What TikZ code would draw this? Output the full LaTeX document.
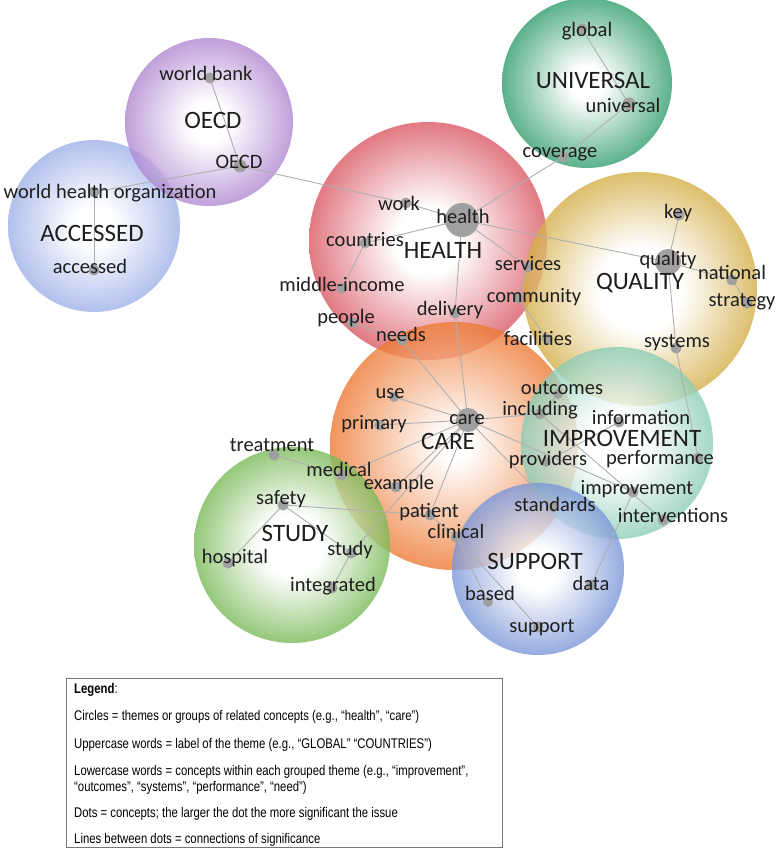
\documentclass[tikz,border=0pt]{standalone}
\usepackage{fontspec}
\setmainfont{Carlito}
\newfontfamily\legfont[FakeStretch=0.81]{Liberation Sans}
\pgfdeclarelayer{circ}
\pgfdeclarelayer{lns}
\pgfsetlayers{circ,lns,main}
\definecolor{cOECD}{RGB}{176,136,210}
\definecolor{cACC}{RGB}{158,176,232}
\definecolor{cUNI}{RGB}{50,158,110}
\definecolor{cHEA}{RGB}{218,88,100}
\definecolor{cQUA}{RGB}{212,174,72}
\definecolor{cCAR}{RGB}{238,122,52}
\definecolor{cIMP}{RGB}{140,205,182}
\definecolor{cSUP}{RGB}{122,150,215}
\definecolor{cSTU}{RGB}{122,186,88}
\definecolor{dotgray}{RGB}{160,160,160}
\definecolor{linegray}{RGB}{175,175,175}
\definecolor{txt}{RGB}{30,30,30}
\pgfdeclareradialshading{shOECD}{\pgfpoint{0bp}{0bp}}{color(0bp)=(white); color(6bp)=(white); color(25bp)=(cOECD); color(50bp)=(cOECD)}
\pgfdeclareradialshading{shACC}{\pgfpoint{0bp}{0bp}}{color(0bp)=(white); color(6bp)=(white); color(25bp)=(cACC); color(50bp)=(cACC)}
\pgfdeclareradialshading{shUNI}{\pgfpoint{0bp}{0bp}}{color(0bp)=(white); color(5bp)=(white); color(25bp)=(cUNI); color(50bp)=(cUNI)}
\pgfdeclareradialshading{shHEA}{\pgfpoint{0bp}{0bp}}{color(0bp)=(white); color(7bp)=(white); color(25bp)=(cHEA); color(50bp)=(cHEA)}
\pgfdeclareradialshading{shQUA}{\pgfpoint{0bp}{0bp}}{color(0bp)=(white); color(9bp)=(white); color(25bp)=(cQUA); color(50bp)=(cQUA)}
\pgfdeclareradialshading{shCAR}{\pgfpoint{0bp}{0bp}}{color(0bp)=(white); color(3bp)=(white); color(25bp)=(cCAR); color(50bp)=(cCAR)}
\pgfdeclareradialshading{shIMP}{\pgfpoint{0bp}{0bp}}{color(0bp)=(white); color(8bp)=(white); color(25bp)=(cIMP); color(50bp)=(cIMP)}
\pgfdeclareradialshading{shSUP}{\pgfpoint{0bp}{0bp}}{color(0bp)=(white); color(6bp)=(white); color(25bp)=(cSUP); color(50bp)=(cSUP)}
\pgfdeclareradialshading{shSTU}{\pgfpoint{0bp}{0bp}}{color(0bp)=(white); color(8bp)=(white); color(25bp)=(cSTU); color(50bp)=(cSTU)}
\tikzset{
  theme/.style={opacity=0.8},
  dot/.style={circle, fill=dotgray, draw=none, inner sep=0pt, minimum size=#1},
  dot/.default=11pt,
  conn/.style={draw=linegray, line width=0.9pt},
  lbl/.style={inner sep=0pt, text=txt, font=\fontsize{20.5}{24}\selectfont, text height=0.7em, text depth=0pt},
  thm/.style={inner sep=0pt, text=txt, font=\fontsize{25}{30}\selectfont, text height=0.66em, text depth=0pt},
  leg/.style={inner sep=0pt, anchor=west, text=black, font=\legfont\fontsize{14}{16}\selectfont, text height=0.72em, text depth=0pt}
}
\begin{document}
\begin{tikzpicture}[x=1pt, y=-1pt]
\useasboundingbox (0,0) rectangle (778,850);
% theme circles
\begin{pgfonlayer}{circ}
\shade[shading=shACC, theme] (94,226) circle[radius=86pt];
\shade[shading=shOECD, theme] (209,122) circle[radius=84pt];
\shade[shading=shUNI, theme] (587,83) circle[radius=85pt];
\shade[shading=shHEA, theme] (428,241) circle[radius=119pt];
\shade[shading=shQUA, theme] (640,289) circle[radius=117pt];
\shade[shading=shCAR, theme] (454,446) circle[radius=124pt];
\shade[shading=shSTU, theme] (292,545) circle[radius=98pt];
\shade[shading=shIMP, theme] (617,443) circle[radius=96pt];
\shade[shading=shSUP, theme] (538,569) circle[radius=86pt];
\end{pgfonlayer}
% dots
\node[dot] (wbank) at (210,78) {};
\node[dot=13pt] (oecd) at (240,166) {};
\node[dot] (who) at (94,192) {};
\node[dot] (accessed) at (94,270) {};
\node[dot] (global) at (582,29) {};
\node[dot=13pt] (universal) at (629,104) {};
\node[dot] (coverage) at (563,157) {};
\node[dot] (work) at (406,203) {};
\node[dot=34pt] (health) at (462,220) {};
\node[dot] (countries) at (365,243) {};
\node[dot] (middle) at (342,288) {};
\node[dot] (people) at (352,323) {};
\node[dot] (needs) at (402,340) {};
\node[dot] (delivery) at (455,313) {};
\node[dot] (services) at (528,267) {};
\node[dot] (community) at (518,298) {};
\node[dot] (facilities) at (547,339) {};
\node[dot] (key) at (679,215) {};
\node[dot=26pt] (quality) at (668,262) {};
\node[dot] (national) at (732,280) {};
\node[dot] (strategy) at (747,303) {};
\node[dot] (systems) at (676,348) {};
\node[dot=24pt] (care) at (468,420) {};
\node[dot=10pt] (use) at (394,397) {};
\node[dot] (primary) at (380,425) {};
\node[dot] (medical) at (342,475) {};
\node[dot] (example) at (396,487) {};
\node[dot] (patient) at (430,515) {};
\node[dot] (clinical) at (456,537) {};
\node[dot=10pt] (outcomes) at (558,394) {};
\node[dot] (including) at (540,414) {};
\node[dot=10pt] (providers) at (546,462) {};
\node[dot=10pt] (standards) at (553,507) {};
\node[dot] (information) at (619,422) {};
\node[dot] (performance) at (698,458) {};
\node[dot] (improvement) at (633,492) {};
\node[dot] (interventions) at (663,520) {};
\node[dot] (data) at (591,585) {};
\node[dot] (treatment) at (274,455) {};
\node[dot] (safety) at (283,505) {};
\node[dot] (hospital) at (228,563) {};
\node[dot] (study) at (351,553) {};
\node[dot] (integrated) at (332,588) {};
\node[dot=10pt] (based) at (488,602) {};
\node[dot] (support) at (538,627) {};
% connectors
\begin{pgfonlayer}{lns}
\draw[conn] (wbank.center) -- (oecd.center);
\draw[conn] (who.center) -- (oecd.center);
\draw[conn] (who.center) -- (accessed.center);
\draw[conn] (oecd.center) -- (work.center);
\draw[conn] (work.center) -- (health.center);
\draw[conn] (global.center) -- (universal.center);
\draw[conn] (universal.center) -- (coverage.center);
\draw[conn] (coverage.center) -- (health.center);
\draw[conn] (health.center) -- (countries.center);
\draw[conn] (countries.center) -- (middle.center);
\draw[conn] (health.center) -- (delivery.center);
\draw[conn] (delivery.center) -- (care.center);
\draw[conn] (health.center) -- (services.center);
\draw[conn] (services.center) -- (community.center);
\draw[conn] (community.center) -- (facilities.center);
\draw[conn] (health.center) -- (quality.center);
\draw[conn] (quality.center) -- (key.center);
\draw[conn] (quality.center) -- (national.center);
\draw[conn] (national.center) -- (strategy.center);
\draw[conn] (quality.center) -- (systems.center);
\draw[conn] (systems.center) -- (performance.center);
\draw[conn] (people.center) -- (needs.center);
\draw[conn] (needs.center) -- (care.center);
\draw[conn] (care.center) -- (use.center);
\draw[conn] (care.center) -- (primary.center);
\draw[conn] (care.center) -- (medical.center);
\draw[conn] (care.center) -- (example.center);
\draw[conn] (care.center) -- (patient.center);
\draw[conn] (care.center) -- (study.center);
\draw[conn] (care.center) -- (including.center);
\draw[conn] (care.center) -- (improvement.center);
\draw[conn] (care.center) -- (standards.center);
\draw[conn] (outcomes.center) -- (including.center);
\draw[conn] (including.center) -- (interventions.center);
\draw[conn] (providers.center) -- (information.center);
\draw[conn] (improvement.center) -- (data.center);
\draw[conn] (treatment.center) -- (medical.center);
\draw[conn] (safety.center) -- (hospital.center);
\draw[conn] (safety.center) -- (study.center);
\draw[conn] (safety.center) -- (patient.center);
\draw[conn] (study.center) -- (integrated.center);
\draw[conn] (patient.center) -- (clinical.center);
\draw[conn] (clinical.center) -- (based.center);
\draw[conn] (clinical.center) -- (support.center);
\end{pgfonlayer}
% labels
\node[lbl] (t-wbank) at (206,77) {world bank};
\node[lbl] (t-oecd) at (239,165) {OECD};
\node[lbl] (t-who) at (110,195) {world health organization};
\node[lbl] (t-accessed) at (90,270) {accessed};
\node[thm] (T-oecd) at (213,125) {OECD};
\node[thm] (T-acc) at (92,238) {ACCESSED};
\node[lbl] (t-global) at (587,33) {global};
\node[thm] (T-uni) at (593,85) {UNIVERSAL};
\node[lbl] (t-universal) at (623,109) {universal};
\node[lbl] (t-coverage) at (560,154) {coverage};
\node[lbl] (t-work) at (399,207) {work};
\node[lbl] (t-health) at (463,220) {health};
\node[thm] (T-hea) at (443,255) {HEALTH};
\node[lbl] (t-countries) at (365,243) {countries};
\node[lbl] (t-middle) at (342,288) {middle-income};
\node[lbl] (t-people) at (346,320) {people};
\node[lbl] (t-needs) at (401,338) {needs};
\node[lbl] (t-delivery) at (450,312) {delivery};
\node[lbl] (t-services) at (528,267) {services};
\node[lbl] (t-community) at (534,299) {community};
\node[lbl] (t-facilities) at (538,342) {facilities};
\node[lbl] (t-key) at (678,215) {key};
\node[lbl] (t-quality) at (668,262) {quality};
\node[thm] (T-qua) at (640,286) {QUALITY};
\node[lbl] (t-national) at (732,276) {national};
\node[lbl] (t-strategy) at (742,303) {strategy};
\node[lbl] (t-systems) at (677,344) {systems};
\node[lbl] (t-care) at (467,421) {care};
\node[thm] (T-car) at (448,446) {CARE};
\node[lbl] (t-use) at (390,395) {use};
\node[lbl] (t-primary) at (374,426) {primary};
\node[lbl] (t-medical) at (339,473) {medical};
\node[lbl] (t-example) at (399,486) {example};
\node[lbl] (t-patient) at (429,514) {patient};
\node[lbl] (t-clinical) at (456,535) {clinical};
\node[lbl] (t-outcomes) at (562,391) {outcomes};
\node[lbl] (t-including) at (540,412) {including};
\node[lbl] (t-providers) at (548,462) {providers};
\node[lbl] (t-standards) at (555,508) {standards};
\node[thm] (T-imp) at (622,443) {IMPROVEMENT};
\node[lbl] (t-information) at (641,421) {information};
\node[lbl] (t-performance) at (660,461) {performance};
\node[lbl] (t-improvement) at (637,491) {improvement};
\node[lbl] (t-interventions) at (673,519) {interventions};
\node[lbl] (t-data) at (591,587) {data};
\node[thm] (T-sup) at (535,566) {SUPPORT};
\node[lbl] (t-based) at (490,597) {based};
\node[lbl] (t-support) at (542,629) {support};
\node[lbl] (t-treatment) at (272,448) {treatment};
\node[lbl] (t-safety) at (281,501) {safety};
\node[thm] (T-stu) at (295,538) {STUDY};
\node[lbl] (t-hospital) at (235,560) {hospital};
\node[lbl] (t-study) at (350,552) {study};
\node[lbl] (t-integrated) at (333,588) {integrated};
% legend
\node[draw={rgb,255:red,120;green,120;blue,120}, line width=0.9pt, rectangle, inner sep=0pt, minimum width=436pt, minimum height=169pt, anchor=north west] (legend) at (66,678) {};
\node[leg] (l1) at (74,690) {\textbf{Legend}:};
\node[leg] (l2) at (74,717) {Circles = themes or groups of related concepts (e.g., “health”, “care”)};
\node[leg] (l3) at (74,745) {Uppercase words = label of the theme (e.g., “GLOBAL” “COUNTRIES”)};
\node[leg] (l4) at (74,772) {Lowercase words = concepts within each grouped theme (e.g., “improvement”,};
\node[leg] (l5) at (74,788) {“outcomes”, “systems”, “performance”, “need”)};
\node[leg] (l6) at (74,814) {Dots = concepts; the larger the dot the more significant the issue};
\node[leg] (l7) at (74,840) {Lines between dots = connections of significance};
\end{tikzpicture}
\end{document}
